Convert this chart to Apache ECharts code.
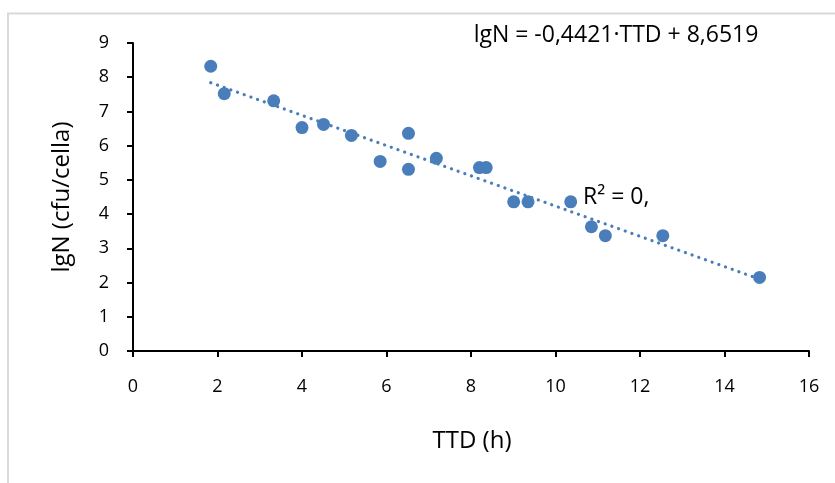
<!DOCTYPE html>
<html>
<head>
<meta charset="utf-8">
<script src="https://cdn.jsdelivr.net/npm/echarts@6/dist/echarts.min.js"></script>
<style>
html,body{margin:0;padding:0;background:#fff;}
#chart{width:835px;height:483px;}
</style>
</head>
<body>
<div id="chart"></div>
<script>
// Data
var ttd = [1.84, 2.16, 3.33, 4.00, 4.51, 5.17, 5.85, 6.52, 6.52, 7.18, 8.20, 8.36, 9.01, 9.35, 10.36, 10.85, 11.18, 12.54, 14.83];
var lgN = [8.32, 7.52, 7.31, 6.53, 6.62, 6.30, 5.54, 6.36, 5.31, 5.63, 5.36, 5.36, 4.36, 4.36, 4.36, 3.63, 3.37, 3.37, 2.15];
var trendX = [1.84, 14.83];
var trendY = [7.84, 2.10];
var xTicks = [0, 2, 4, 6, 8, 10, 12, 14, 16];
var yTicks = [0, 1, 2, 3, 4, 5, 6, 7, 8, 9];
var xTitle = 'TTD (h)';
var yTitle = 'lgN (cfu/cella)';
var equationText = 'lgN = -0,4421·TTD + 8,6519';
var r2Text = 'R² = 0,';

var FONT = 'Open Sans';
var chart = echarts.init(document.getElementById('chart'), null, {renderer: 'canvas'});

var points = ttd.map(function (x, i) { return [x, lgN[i]]; });
var trend = trendX.map(function (x, i) { return [x, trendY[i]]; });

var axisCommon = {
  type: 'value',
  axisLine: {show: true, lineStyle: {color: '#000', width: 2}},
  axisTick: {show: true, inside: false, length: 6, lineStyle: {color: '#000', width: 2}},
  splitLine: {show: false},
  axisLabel: {color: '#000', fontFamily: FONT, fontSize: 18}
};

var option = {
  backgroundColor: '#fff',
  animation: false,
  grid: {left: 133, top: 43, right: 26, bottom: 132, containLabel: false},
  xAxis: Object.assign({}, axisCommon, {
    min: xTicks[0], max: xTicks[xTicks.length - 1], interval: 2,
    axisLabel: Object.assign({}, axisCommon.axisLabel, {margin: 27})
  }),
  yAxis: Object.assign({}, axisCommon, {
    min: yTicks[0], max: yTicks[yTicks.length - 1], interval: 1,
    axisLabel: Object.assign({}, axisCommon.axisLabel, {margin: 24})
  }),
  series: [
    {
      type: 'scatter',
      data: points,
      symbol: 'circle',
      symbolSize: 13,
      itemStyle: {color: '#4a7ebb', opacity: 1},
      z: 2
    },
    {
      type: 'line',
      data: trend,
      symbol: 'none',
      lineStyle: {color: '#4a7ebb', width: 3.2, type: [0.1, 7], cap: 'round'},
      z: 3
    }
  ],
  graphic: [
    {type: 'rect', shape: {x: 8, y: 13.5, width: 900, height: 600},
      style: {fill: 'none', stroke: '#d9d9d9', lineWidth: 2}, silent: true, z: -1},
    {type: 'text', x: 616, y: 35,
      style: {text: equationText, font: '23px "' + FONT + '"', fill: '#000', textAlign: 'center', textVerticalAlign: 'middle'}},
    {type: 'text', x: 583, y: 197,
      style: {text: r2Text, font: '23px "' + FONT + '"', fill: '#000', textAlign: 'left', textVerticalAlign: 'middle'}},
    {type: 'text', x: 472, y: 441,
      style: {text: xTitle, font: '24px "' + FONT + '"', fill: '#000', textAlign: 'center', textVerticalAlign: 'middle'}},
    {type: 'text', x: 62, y: 197, rotation: Math.PI / 2,
      style: {text: yTitle, font: '24px "' + FONT + '"', fill: '#000', textAlign: 'center', textVerticalAlign: 'middle'}}
  ]
};
chart.setOption(option);
</script>
</body>
</html>
